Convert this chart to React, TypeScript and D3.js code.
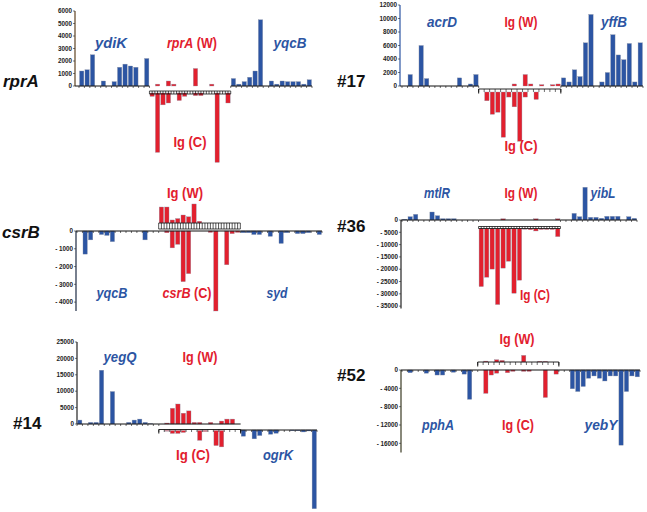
import * as d3 from 'd3';

const BLUE = '#2c55a3';
const RED = '#e2202e';
const FONT = '"Liberation Sans", Arial, Helvetica, sans-serif';

// rprA
const rprALeft = [1200, 1300, 2500, 0, 400, 0, 350, 1500, 1750, 1600, 1500, 0, 2200];
const rprAW = [0, 150, 0, 400, 150, 0, 0, 0, 1400, 0, 0, 150, 0, 0, 0];
const rprAC = [270, 4750, 950, 800, 0, 600, 270, 0, 210, 210, 0, 0, 5550, 0, 800];
const rprARight = [600, 150, 350, 700, 1200, 5300, 0, 400, 150, 400, 350, 350, 350, 150, 500];
const rprATicks = [0, 1000, 2000, 3000, 4000, 5000, 6000];

// #17
const p17Left = [0, 1700, 0, 6000, 1100, 0, 0, 0, 0, 0, 1200, 0, 300, 1700];
const p17W = [0, 0, 0, 0, 0, 0, 300, 0, 1700, 300, 0, 200, 0, 200, 300];
const p17C = [0, 1300, 3300, 3000, 6700, 750, 2200, 7300, 750, 0, 1100, 0, 0, 0, 0];
const p17Right = [1200, 600, 2400, 1400, 6400, 10600, 0, 600, 2000, 7600, 4600, 3900, 6300, 600, 6400];
const p17Ticks = [0, 2000, 4000, 6000, 8000, 10000, 12000];

// csrB
const csrBLeft = [0, -1300, -500, 0, -200, -250, -600, 0, 0, 0, 0, 0, -500, 0, 0];
const csrBW = [900, 900, 170, 250, 450, 350, 1070, 100, 0, 0, 0, 0, 0, 0, 0];
const csrBC = [0, 100, 950, 750, 2850, 2400, 0, 0, 0, 80, 4500, 0, 1900, 150, 80];
const csrBRight = [-100, -100, -200, -200, 0, -300, 0, -700, -100, 0, -150, -150, -100, 0, -200];
const csrBTicks = [0, -1000, -2000, -3000, -4000];

// #36
const p36Left = [300, 1350, 2300, 0, 0, 3250, 1750, 550, 550, 550, 0, 0, 0, 0];
const p36W = [0, 0, 0, 0, 500, 0, 0, 0, 0, 0, 500, 0, 0, 0, 500];
const p36C = [23600, 19800, 16500, 30900, 16100, 13300, 26300, 21000, 300, 500, 1000, 400, 400, 400, 3300];
const p36Right = [0, 0, 2700, 1350, 13300, 1100, 1100, 700, 1500, 1500, 1500, 0, 1350, 700];
const p36Ticks = [0, -5000, -10000, -15000, -20000, -25000, -30000, -35000];

// #14
const p14Left = [1200, 0, 500, 500, 16400, 0, 9900, 0, 0, 500, 1200, 1500, 500, 100, 0];
const p14W = [0, 300, 4800, 6100, 3300, 4000, 500, 500, 0, 500, 0, 900, 1500, 1500, 0];
const p14C = [0, 200, 900, 900, 600, 0, 0, 3000, 300, 0, 4600, 5000, 0, 0, 0];
const p14Right = [-1900, 0, -2700, -1700, 0, -1300, -1000, 0, 0, -200, -200, -600, -300, -24000];
const p14Ticks = [0, 5000, 10000, 15000, 20000, 25000];

// #52
const p52Left = [0, -600, 0, 0, -700, 0, -1100, -1100, 0, -500, 0, -900, -6400, 0];
const p52W = [0, 200, 0, 500, 350, 0, 0, 0, 1450, 0, 0, 150, 150, 0, 0];
const p52C = [0, 5100, 1100, 700, 0, 600, 300, 0, 300, 300, 0, 0, 6000, 0, 900];
const p52Right = [0, 0, -4100, -4700, -3600, -1800, -1300, -1800, -2400, -1300, -1300, -16400, -4700, -1300, -1500];
const p52Ticks = [0, -4000, -8000, -12000, -16000];

type Part = { t: string; i?: boolean };
type Label = { parts: Part[]; color: string; cx: number; y: number; w: number };
type Panel = {
  name: string; nameX: number; nameY: number; nameItalic: boolean;
  left: number[]; w: number[]; c: number[]; right: number[]; ticks: number[];
  xRange: [number, number]; axisX: number; axisColor: string;
  yDomain: [number, number]; yRange: [number, number];
  wOff: number; cOff: number; rightOff: number; redLine: boolean;
  rail: { off: number; kind: 'ladder' | 'comb'; h: number };
  labels: Label[];
};

const it = (t: string): Part[] => [{ t, i: true }];
const ig = (s: string): Part[] => [{ t: `Ig (${s})` }];

const panels: Panel[] = [
  {
    name: 'rprA', nameX: 3, nameY: 87, nameItalic: true,
    left: rprALeft, w: rprAW, c: rprAC, right: rprARight, ticks: rprATicks,
    xRange: [79, 312], axisX: 75, axisColor: '#5e4424',
    yDomain: [0, 6000], yRange: [86, 11],
    wOff: 0, cOff: 7, rightOff: 0, redLine: false,
    rail: { off: 5, kind: 'ladder', h: 3 },
    labels: [
      { parts: it('ydiK'), color: BLUE, cx: 111, y: 48, w: 32 },
      { parts: [{ t: 'rprA', i: true }, { t: ' (W)' }], color: RED, cx: 192, y: 48, w: 50 },
      { parts: it('yqcB'), color: BLUE, cx: 290, y: 48, w: 33 },
      { parts: ig('C'), color: RED, cx: 190, y: 147, w: 33 },
    ],
  },
  {
    name: '#17', nameX: 337, nameY: 87, nameItalic: false,
    left: p17Left, w: p17W, c: p17C, right: p17Right, ticks: p17Ticks,
    xRange: [402, 643], axisX: 400, axisColor: BLUE,
    yDomain: [0, 12000], yRange: [86, 5],
    wOff: 0, cOff: 6, rightOff: 0, redLine: false,
    rail: { off: 3, kind: 'comb', h: 3 },
    labels: [
      { parts: it('acrD'), color: BLUE, cx: 442, y: 27, w: 30 },
      { parts: ig('W'), color: RED, cx: 521, y: 27, w: 33 },
      { parts: it('yffB'), color: BLUE, cx: 614, y: 27, w: 26 },
      { parts: ig('C'), color: RED, cx: 521, y: 151, w: 33 },
    ],
  },
  {
    name: 'csrB', nameX: 2, nameY: 238, nameItalic: true,
    left: csrBLeft, w: csrBW, c: csrBC, right: csrBRight, ticks: csrBTicks,
    xRange: [77, 322], axisX: 76, axisColor: '#1d2a44',
    yDomain: [-4500, 0], yRange: [311, 231],
    wOff: -8, cOff: 0, rightOff: 0, redLine: true,
    rail: { off: -8, kind: 'ladder', h: 6 },
    labels: [
      { parts: ig('W'), color: RED, cx: 185, y: 198, w: 36 },
      { parts: it('yqcB'), color: BLUE, cx: 112, y: 298, w: 31 },
      { parts: [{ t: 'csrB', i: true }, { t: ' (C)' }], color: RED, cx: 187, y: 298, w: 49 },
      { parts: it('syd'), color: BLUE, cx: 277, y: 298, w: 21 },
    ],
  },
  {
    name: '#36', nameX: 337, nameY: 232, nameItalic: false,
    left: p36Left, w: p36W, c: p36C, right: p36Right, ticks: p36Ticks,
    xRange: [402, 637], axisX: 401, axisColor: '#222',
    yDomain: [-36000, 0], yRange: [308.6, 220],
    wOff: 0, cOff: 8.5, rightOff: 0, redLine: true,
    rail: { off: 6.5, kind: 'ladder', h: 2 },
    labels: [
      { parts: it('mtlR'), color: BLUE, cx: 437, y: 198, w: 26 },
      { parts: ig('W'), color: RED, cx: 521, y: 198, w: 33 },
      { parts: it('yibL'), color: BLUE, cx: 603, y: 198, w: 25 },
      { parts: ig('C'), color: RED, cx: 535, y: 300, w: 30 },
    ],
  },
  {
    name: '#14', nameX: 13, nameY: 429, nameItalic: false,
    left: p14Left, w: p14W, c: p14C, right: p14Right, ticks: p14Ticks,
    xRange: [77, 317], axisX: 77, axisColor: '#222',
    yDomain: [0, 25000], yRange: [424, 342],
    wOff: 0, cOff: 6.5, rightOff: 6, redLine: true,
    rail: { off: 5.5, kind: 'comb', h: 2.5 },
    labels: [
      { parts: it('yegQ'), color: BLUE, cx: 120, y: 362, w: 33 },
      { parts: ig('W'), color: RED, cx: 200, y: 362, w: 35 },
      { parts: ig('C'), color: RED, cx: 193, y: 460, w: 34 },
      { parts: it('ogrK'), color: BLUE, cx: 278, y: 460, w: 30 },
    ],
  },
  {
    name: '#52', nameX: 337, nameY: 381, nameItalic: false,
    left: p52Left, w: p52W, c: p52C, right: p52Right, ticks: p52Ticks,
    xRange: [402, 640], axisX: 401, axisColor: '#3a3a22',
    yDomain: [-18000, 0], yRange: [452.5, 370],
    wOff: -8, cOff: 0, rightOff: 0, redLine: true,
    rail: { off: -8, kind: 'comb', h: 3 },
    labels: [
      { parts: ig('W'), color: RED, cx: 517, y: 344, w: 35 },
      { parts: it('pphA'), color: BLUE, cx: 438, y: 430, w: 32 },
      { parts: ig('C'), color: RED, cx: 518, y: 430, w: 32 },
      { parts: it('yebY'), color: BLUE, cx: 601, y: 430, w: 33 },
    ],
  },
];

const tickText = (v: number) => (v < 0 ? `- ${Math.abs(v)}` : String(v));

function PanelView({ p }: { p: Panel }) {
  const nL = p.left.length;
  const nM = p.w.length;
  const n = nL + nM + p.right.length;
  const x = d3.scaleBand<number>().domain(d3.range(n)).range(p.xRange).paddingInner(0.2).paddingOuter(0.1);
  const y = d3.scaleLinear().domain(p.yDomain).range(p.yRange);
  const y0 = y(0);
  const step = x.step();
  const bw = x.bandwidth();
  const edge = (i: number) => p.xRange[0] + i * step;
  const len = (v: number) => Math.abs(y(v) - y0);

  const bar = (key: string, i: number, base: number, v: number, color: string) => {
    if (!v) return null;
    const h = len(v);
    return (
      <rect key={key} x={x(i)} y={v > 0 ? base - h : base} width={bw} height={h}
        fill={color} stroke="#8f96a8" strokeWidth={0.35} />
    );
  };

  const ticksOn = (from: number, to: number, yy: number, dy: number, k: string) =>
    d3.range(from, to + 1).map((i) => (
      <line key={`${k}${i}`} x1={edge(i)} x2={edge(i)} y1={yy} y2={yy + dy} stroke="#111" strokeWidth={0.6} />
    ));

  const ry = y0 + p.rail.off;
  const r0 = edge(nL);
  const r1 = edge(nL + nM);

  return (
    <g>
      {/* row label */}
      <text x={p.nameX} y={p.nameY} fontSize={17} fontWeight="bold" fontStyle={p.nameItalic ? 'italic' : 'normal'}
        fontFamily={FONT} fill="#111">{p.name}</text>

      {/* y axis */}
      <line x1={p.axisX} x2={p.axisX} y1={y(p.yDomain[0])} y2={y(p.yDomain[1])} stroke={p.axisColor} strokeWidth={1.2} />
      {p.ticks.map((t) => (
        <g key={t}>
          <line x1={p.axisX - 2} x2={p.axisX} y1={y(t)} y2={y(t)} stroke="#222" strokeWidth={0.6} />
          <text x={p.axisX - 3} y={y(t) + 2.2} textAnchor="end" fontSize={6.3} fontWeight="bold"
            fontFamily={FONT} fill="#222">{tickText(t)}</text>
        </g>
      ))}

      {/* bars */}
      {p.left.map((v, i) => bar(`l${i}`, i, y0, v, BLUE))}
      {p.w.map((v, i) => bar(`w${i}`, nL + i, y0 + p.wOff, v, RED))}
      {p.c.map((v, i) => bar(`c${i}`, nL + i, y0 + p.cOff, -v, RED))}
      {p.right.map((v, i) => bar(`r${i}`, nL + nM + i, y0 + p.rightOff, v, BLUE))}

      {/* baselines */}
      <line x1={p.axisX} x2={r0} y1={y0} y2={y0} stroke="#111" strokeWidth={1} />
      {ticksOn(0, nL, y0, 2, 'tl')}
      {p.redLine && <line x1={r0} x2={r1} y1={y0} y2={y0} stroke="#111" strokeWidth={1} />}
      <line x1={r1} x2={edge(n)} y1={y0 + p.rightOff} y2={y0 + p.rightOff} stroke="#111" strokeWidth={1} />
      {ticksOn(nL + nM, n, y0 + p.rightOff, 2, 'tr')}

      {/* intergenic rail */}
      {p.rail.kind === 'ladder' ? (
        <g>
          <line x1={r0} x2={r1} y1={ry} y2={ry} stroke="#111" strokeWidth={0.8} />
          <line x1={r0} x2={r1} y1={ry + p.rail.h} y2={ry + p.rail.h} stroke="#111" strokeWidth={0.8} />
          {d3.range(0, nM * 2 + 1).map((j) => (
            <line key={j} x1={r0 + (j * step) / 2} x2={r0 + (j * step) / 2} y1={ry} y2={ry + p.rail.h}
              stroke="#111" strokeWidth={0.7} />
          ))}
        </g>
      ) : (
        <g>
          <line x1={r0} x2={r1} y1={ry} y2={ry} stroke="#111" strokeWidth={0.9} />
          {ticksOn(nL, nL + nM, ry, p.rail.h, 'rc')}
          <line x1={r0} x2={r0} y1={ry} y2={ry + p.rail.h + 1.5} stroke="#111" strokeWidth={1} />
          <line x1={r1} x2={r1} y1={ry} y2={ry + p.rail.h + 1.5} stroke="#111" strokeWidth={1} />
        </g>
      )}

      {/* region labels */}
      {p.labels.map((l, k) => (
        <text key={k} x={l.cx} y={l.y} textAnchor="middle" fontSize={15} fontWeight="bold" fontFamily={FONT}
          fill={l.color} textLength={l.w} lengthAdjust="spacingAndGlyphs">
          {l.parts.map((pt, j) => (
            <tspan key={j} fontStyle={pt.i ? 'italic' : 'normal'}>{pt.t}</tspan>
          ))}
        </text>
      ))}
    </g>
  );
}

export default function App() {
  return (
    <svg width={647} height={512} viewBox="0 0 647 512"
      style={{ position: 'absolute', left: 0, top: 0, background: '#fff' }}>
      <rect width={647} height={512} fill="#fff" />
      {panels.map((p) => (
        <PanelView key={p.name} p={p} />
      ))}
    </svg>
  );
}
